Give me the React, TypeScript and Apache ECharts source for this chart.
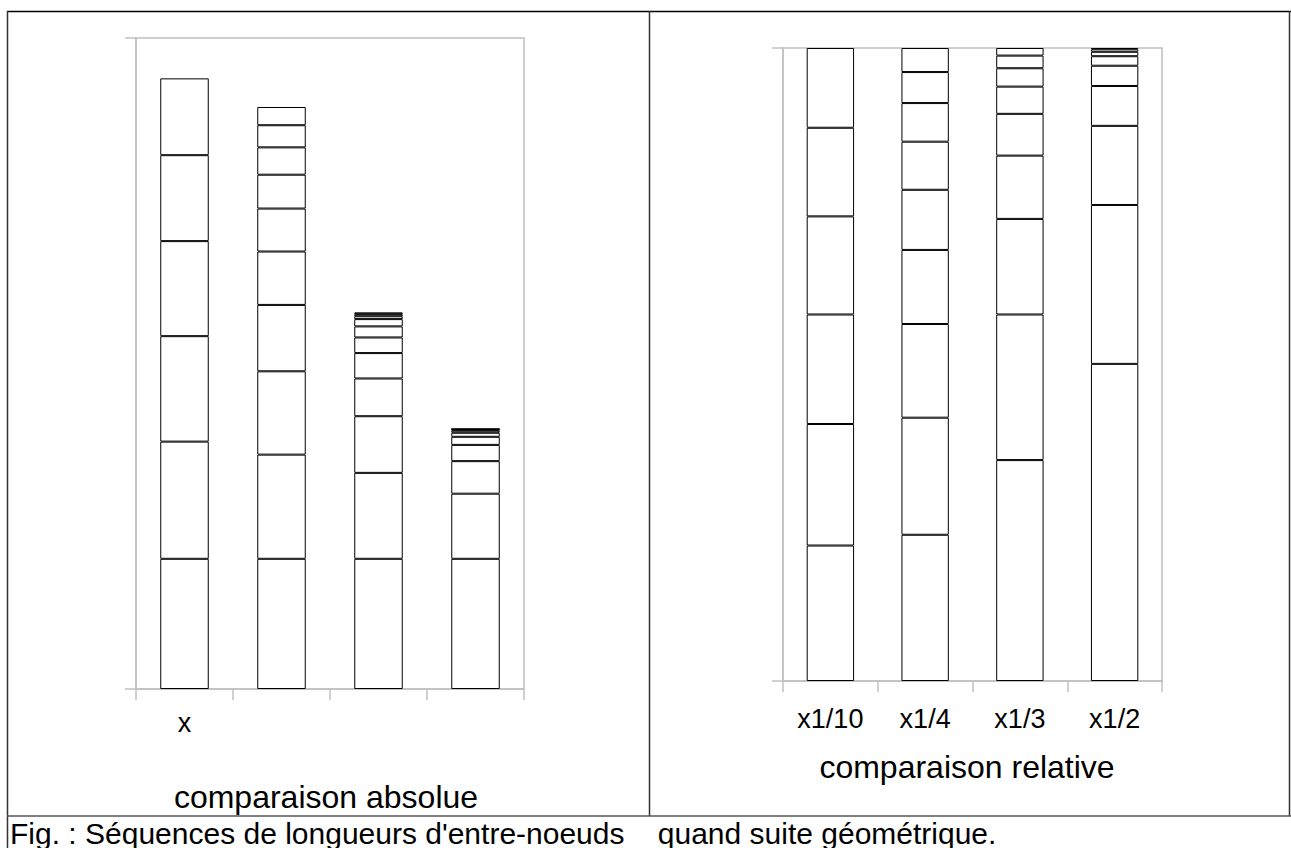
import React, { useEffect, useRef } from "react";
import * as echarts from "echarts";

const absCategories = ["x", "", "", ""];
const relCategories = ["x1/10", "x1/4", "x1/3", "x1/2"];

// comparaison absolue: segment lengths from bottom to top (first internode = 1)
const absBar1 = [1.0, 0.9, 0.81, 0.73, 0.66, 0.59];
const absBar2 = [1.0, 0.8, 0.64, 0.51, 0.41, 0.33, 0.26, 0.21, 0.17, 0.14];
const absBar3 = [1.0, 0.66, 0.435, 0.29, 0.195, 0.12, 0.085, 0.056, 0.022, 0.016, 0.014];
const absBar4 = [1.0, 0.5, 0.25, 0.125, 0.062, 0.031, 0.016, 0.008, 0.004, 0.002];

// comparaison relative: segment shares in % from bottom to top
const relBar1 = [21.4, 19.2, 17.3, 15.5, 14.0, 12.6];
const relBar2 = [23.1, 18.5, 14.8, 11.7, 9.5, 7.6, 6.1, 4.9, 3.8];
const relBar3 = [34.9, 23.0, 15.1, 10.0, 6.6, 4.3, 2.9, 2.0, 1.2];
const relBar4 = [50.1, 25.1, 12.5, 6.3, 3.2, 1.5, 0.7, 0.4, 0.2];

const absMax = 5;
const relMax = 100;

const captionLeft = "comparaison absolue";
const captionRight = "comparaison relative";
const figCaption =
  "Fig. : Séquences de longueurs d'entre-noeuds\u00a0\u00a0\u00a0 quand suite géométrique.";

const FONT = "'Liberation Sans', Arial, sans-serif";
const AXIS_GRAY = "#c0c0c0";

function stackSeries(bars: number[][], axisIndex: number, stackName: string) {
  const n = Math.max(...bars.map((b) => b.length));
  return Array.from({ length: n }, (_, i) => ({
    type: "bar",
    name: `${stackName}-${i + 1}`,
    stack: stackName,
    xAxisIndex: axisIndex,
    yAxisIndex: axisIndex,
    barWidth: "50%",
    silent: true,
    data: bars.map((b) => (i < b.length ? b[i] : "-")),
    itemStyle: { color: "#ffffff", borderColor: "#000000", borderWidth: 1 },
  }));
}

function xAxisCfg(gridIndex: number, data: string[], margin: number) {
  return {
    gridIndex,
    type: "category",
    data,
    axisLine: { show: true, lineStyle: { color: AXIS_GRAY, width: 1.5 } },
    axisTick: { show: true, length: 11, lineStyle: { color: AXIS_GRAY, width: 1.5 } },
    axisLabel: { color: "#000", fontSize: 27, fontFamily: FONT, margin, interval: 0 },
    splitLine: { show: false },
  };
}

function yAxisCfg(gridIndex: number, max: number) {
  return {
    gridIndex,
    type: "value",
    min: 0,
    max,
    interval: max,
    axisLine: { show: true, lineStyle: { color: AXIS_GRAY, width: 1.5 } },
    axisTick: { show: true, length: 11, lineStyle: { color: AXIS_GRAY, width: 1.5 } },
    axisLabel: { show: false },
    splitLine: { show: false },
  };
}

export default function App() {
  const ref = useRef<HTMLDivElement>(null);

  useEffect(() => {
    if (!ref.current) return;
    const chart = echarts.init(ref.current, undefined, { renderer: "svg" });
    const line = (x1: number, y1: number, x2: number, y2: number, color: string, w: number) => ({
      type: "line",
      silent: true,
      shape: { x1, y1, x2, y2 },
      style: { stroke: color, lineWidth: w },
    });
    chart.setOption({
      animation: false,
      backgroundColor: "#ffffff",
      grid: [
        { left: 136, top: 38, width: 388, height: 651, show: true, borderColor: AXIS_GRAY, borderWidth: 1.5, backgroundColor: "transparent" },
        { left: 783, top: 48, width: 379, height: 633, show: true, borderColor: AXIS_GRAY, borderWidth: 1.5, backgroundColor: "transparent" },
      ],
      xAxis: [xAxisCfg(0, absCategories, 20), xAxisCfg(1, relCategories, 24)],
      yAxis: [yAxisCfg(0, absMax), yAxisCfg(1, relMax)],
      series: [
        ...stackSeries([absBar1, absBar2, absBar3, absBar4], 0, "abs"),
        ...stackSeries([relBar1, relBar2, relBar3, relBar4], 1, "rel"),
      ],
      graphic: [
        line(7, 11.5, 1291, 11.5, "#000", 1.5),
        line(7.5, 11, 7.5, 848, "#333", 1.5),
        line(1289.5, 11, 1289.5, 816, "#333", 1.5),
        line(649.5, 11, 649.5, 816, "#333", 1.5),
        line(7, 816, 1291, 816, "#555", 1.5),
        {
          type: "text",
          silent: true,
          x: 326,
          y: 797,
          style: { text: captionLeft, fill: "#000", font: `32px ${FONT}`, textAlign: "center", textVerticalAlign: "middle" },
        },
        {
          type: "text",
          silent: true,
          x: 967,
          y: 767,
          style: { text: captionRight, fill: "#000", font: `32px ${FONT}`, textAlign: "center", textVerticalAlign: "middle" },
        },
        {
          type: "text",
          silent: true,
          x: 10,
          y: 833,
          style: { text: figCaption, fill: "#000", font: `30px ${FONT}`, textAlign: "left", textVerticalAlign: "middle" },
        },
      ],
    });
    return () => chart.dispose();
  }, []);

  return (
    <div
      ref={ref}
      style={{ position: "absolute", left: 0, top: 0, width: 1291, height: 848, background: "#fff" }}
    />
  );
}
